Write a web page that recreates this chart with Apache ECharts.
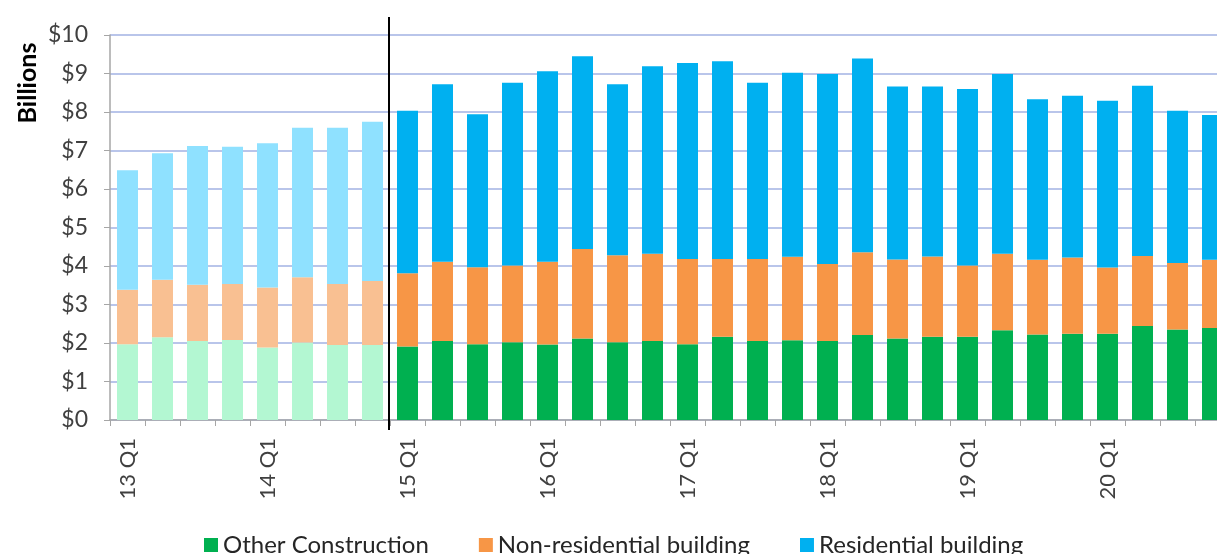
<!DOCTYPE html>
<html>
<head>
<meta charset="utf-8">
<script src="https://cdn.jsdelivr.net/npm/echarts@6/dist/echarts.min.js"></script>
<style>
  html, body { margin: 0; padding: 0; background: #fff; }
  #chart { width: 1217px; height: 554px; }
</style>
</head>
<body>
<div id="chart"></div>
<script>
var quarters = [
    '13 Q1', '13 Q2', '13 Q3', '13 Q4', '14 Q1', '14 Q2', '14 Q3', '14 Q4',
    '15 Q1', '15 Q2', '15 Q3', '15 Q4', '16 Q1', '16 Q2', '16 Q3', '16 Q4',
    '17 Q1', '17 Q2', '17 Q3', '17 Q4', '18 Q1', '18 Q2', '18 Q3', '18 Q4',
    '19 Q1', '19 Q2', '19 Q3', '19 Q4', '20 Q1', '20 Q2', '20 Q3', '20 Q4'
];
// $ billions
var otherConstruction = [
    1.97, 2.15, 2.05, 2.08, 1.88, 2.01, 1.95, 1.95,
    1.91, 2.05, 1.97, 2.02, 1.96, 2.12, 2.02, 2.05,
    1.97, 2.16, 2.05, 2.07, 2.05, 2.21, 2.12, 2.16,
    2.16, 2.33, 2.22, 2.24, 2.24, 2.44, 2.35, 2.39
];
var nonResidential = [
    1.41, 1.49, 1.46, 1.45, 1.56, 1.70, 1.58, 1.66,
    1.90, 2.06, 2.00, 1.99, 2.15, 2.32, 2.26, 2.27,
    2.21, 2.02, 2.13, 2.17, 2.00, 2.15, 2.05, 2.09,
    1.85, 1.99, 1.94, 1.98, 1.72, 1.82, 1.73, 1.77
];
var residential = [
    3.11, 3.29, 3.61, 3.57, 3.75, 3.88, 4.06, 4.14,
    4.22, 4.61, 3.97, 4.75, 4.95, 5.01, 4.44, 4.87,
    5.09, 5.14, 4.58, 4.78, 4.94, 5.03, 4.49, 4.41,
    4.59, 4.67, 4.17, 4.20, 4.33, 4.42, 3.95, 3.76
];
var yTicks = ['$0', '$1', '$2', '$3', '$4', '$5', '$6', '$7', '$8', '$9', '$10'];
// first quarters drawn in pale colours, before the divider
var firstSolid = '15 Q1';

var chart = echarts.init(document.getElementById('chart'));
var font = 'Lato, "Open Sans", sans-serif';
var solidIdx = quarters.indexOf(firstSolid);

var makeSeries = function(name, values, color, pale) {
    var data = values.map(function(v, i) {
        return {
            value: v,
            itemStyle: { color: i < solidIdx ? pale : color }
        };
    });
    return {
        name: name,
        type: 'bar',
        stack: 'total',
        barWidth: 21,
        itemStyle: { color: color },
        data: data
    };
};

chart.setOption({
    animation: false,
    // the plot runs past the right edge of the picture, as in the source
    grid: { left: 110, top: 35, width: 1120, height: 385, outerBoundsMode: 'none' },
    legend: {
        top: 528,
        left: 199,
        itemWidth: 14,
        itemHeight: 14,
        itemGap: 50,
        icon: 'rect',
        textStyle: { fontFamily: font, fontSize: 24, color: '#262626' },
        data: ['Other Construction', 'Non-residential building', 'Residential building']
    },
    xAxis: {
        type: 'category',
        data: quarters,
        axisLine: { lineStyle: { color: '#a6a6a6', width: 1.5 } },
        axisTick: { show: true, interval: 0, length: 6, lineStyle: { color: '#a6a6a6' } },
        axisLabel: {
            interval: 3,
            rotate: 90,
            margin: 18,
            fontFamily: font,
            fontSize: 22,
            color: '#404040'
        }
    },
    yAxis: {
        type: 'value',
        min: 0,
        max: 10,
        interval: 1,
        axisLine: { show: true, lineStyle: { color: '#a6a6a6', width: 1.5 } },
        axisTick: { show: true, length: 6, lineStyle: { color: '#a6a6a6' } },
        splitLine: { lineStyle: { color: '#b9c5ea', width: 2 } },
        axisLabel: {
            margin: 22,
            fontFamily: font,
            fontSize: 23,
            color: '#404040',
            formatter: function(v) { return yTicks[v]; }
        }
    },
    series: [
        makeSeries('Other Construction', otherConstruction, '#00b050', '#b3f7d2'),
        makeSeries('Non-residential building', nonResidential, '#f79646', '#f9c092'),
        makeSeries('Residential building', residential, '#00b0f0', '#8fe1ff')
    ]
});

// divider between the pale and solid periods, placed on the category boundary
var xa = chart.convertToPixel({ xAxisIndex: 0 }, quarters[solidIdx - 1]);
var xb = chart.convertToPixel({ xAxisIndex: 0 }, quarters[solidIdx]);
var xDiv = Math.round((xa + xb) / 2) - 1;
var yTop = chart.convertToPixel({ yAxisIndex: 0 }, 10) - 18;
var yBot = chart.convertToPixel({ yAxisIndex: 0 }, 0) + 10;
chart.setOption({
    graphic: [{
        type: 'line',
        shape: { x1: xDiv, y1: yTop, x2: xDiv, y2: yBot },
        style: { stroke: '#000', lineWidth: 2 },
        z: 100
    }, {
        // unit title sits beside the top of the value axis
        type: 'text',
        x: 28,
        y: 83,
        rotation: Math.PI / 2,
        style: {
            text: 'Billions',
            font: 'bold 25px Lato, sans-serif',
            fill: '#000',
            align: 'center',
            verticalAlign: 'middle'
        }
    }]
});
</script>
</body>
</html>
